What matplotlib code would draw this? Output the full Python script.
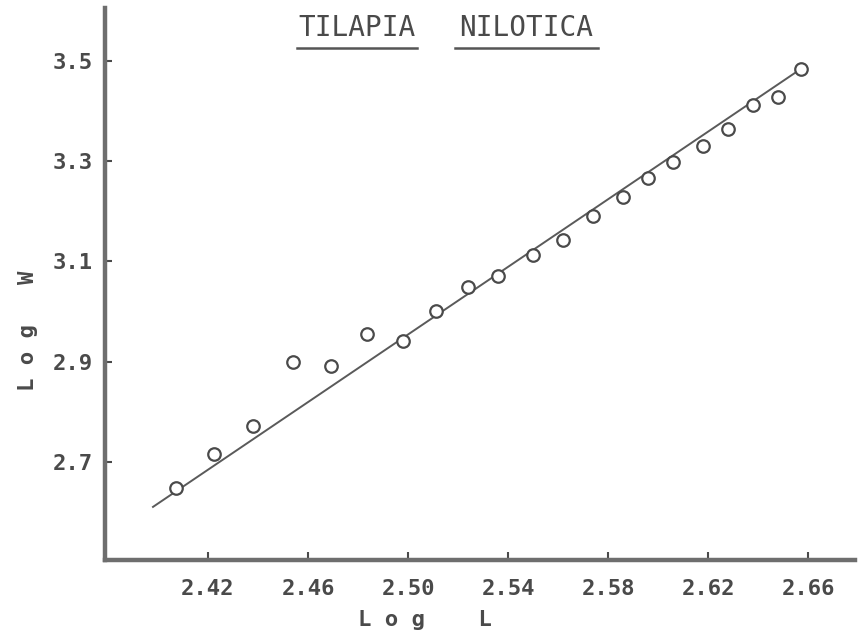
import numpy as np
import matplotlib.pyplot as plt
from matplotlib.lines import Line2D

# data (log L, log W)
log_l = [2.407, 2.4225, 2.438, 2.454, 2.469, 2.4835, 2.498, 2.511, 2.524,
         2.536, 2.550, 2.562, 2.574, 2.586, 2.596, 2.606, 2.618, 2.628,
         2.638, 2.648, 2.657]
log_w = [2.647, 2.715, 2.772, 2.899, 2.891, 2.955, 2.942, 3.001, 3.048,
         3.071, 3.112, 3.143, 3.191, 3.228, 3.267, 3.299, 3.331, 3.364,
         3.412, 3.429, 3.484]

# fitted line end points
fit_x = [2.398, 2.6556]
fit_y = [2.610, 3.479]

x_ticks = [2.42, 2.46, 2.50, 2.54, 2.58, 2.62, 2.66]
y_ticks = [2.7, 2.9, 3.1, 3.3, 3.5]

ink = '#4a4a4a'
W, H = 858, 639

fig = plt.figure(figsize=(W / 100, H / 100), dpi=100)
fig.patch.set_facecolor('white')
ax = fig.add_axes([105 / W, 1 - 560 / H, 750 / W, 552 / H])

ax.plot(fit_x, fit_y, color='#5a5a5a', lw=1.4, zorder=2)
ax.plot(log_l, log_w, 'o', ms=9, mfc='white', mec=ink, mew=1.6, zorder=3)

ax.set_xlim(2.3788, 2.6788)
ax.set_ylim(2.504, 3.6058)

for s in ['top', 'right']:
    ax.spines[s].set_visible(False)
for s in ['left', 'bottom']:
    ax.spines[s].set_linewidth(3.2)
    ax.spines[s].set_color('#6e6e6e')

mono = 'DejaVu Sans Mono'
ax.set_xticks(x_ticks)
ax.set_xticklabels(['%.2f' % v for v in x_ticks], family=mono, fontsize=16,
                   color=ink, fontweight='bold')
ax.set_yticks(y_ticks)
ax.set_yticklabels(['%.1f' % v for v in y_ticks], family=mono, fontsize=16,
                   color=ink, fontweight='bold')
ax.tick_params(axis='x', direction='in', length=6, width=1.5, color=ink, pad=14)
ax.tick_params(axis='y', direction='in', length=5, width=1.5, color=ink, pad=9)

# axis labels, typed with spaces between letters
fig.text(425 / W, 1 - 620 / H, 'L o g    L', family=mono, fontsize=16,
         color=ink, ha='center', va='center', fontweight='bold')
fig.text(28 / W, 1 - 331 / H, 'L o g   W', family=mono, fontsize=16,
         color=ink, ha='center', va='center', rotation=90, fontweight='bold')

# underlined title
fig.text(357 / W, 1 - 28 / H, 'TILAPIA', family=mono, fontsize=20,
         color=ink, ha='center', va='center')
fig.text(526 / W, 1 - 28 / H, 'NILOTICA', family=mono, fontsize=20,
         color=ink, ha='center', va='center')
for x0, x1 in [(297, 417), (455, 598)]:
    fig.add_artist(Line2D([x0 / W, x1 / W], [1 - 48 / H, 1 - 48 / H],
                          color='#555555', lw=1.8))

fig.savefig('out.png', dpi=100)
